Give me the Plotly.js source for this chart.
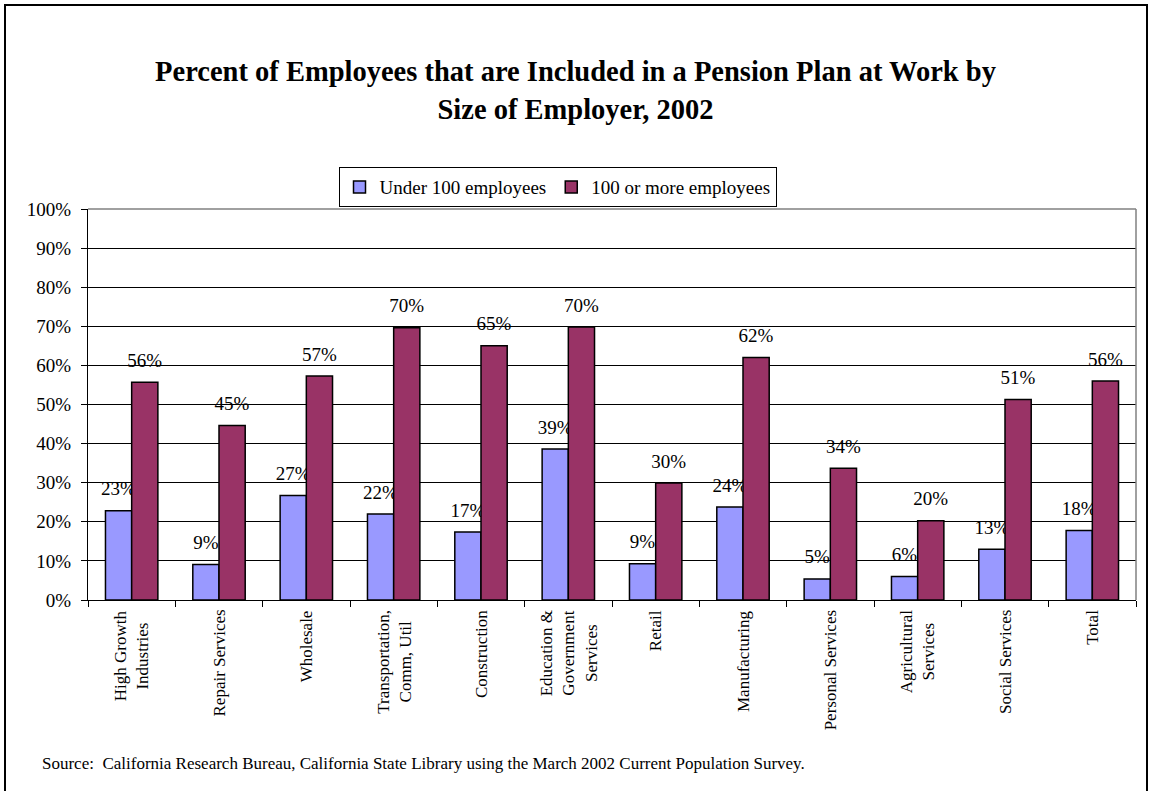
<!DOCTYPE html>
<html>
<head>
<meta charset="utf-8">
<script src="https://cdn.plot.ly/plotly-3.0.1.min.js"></script>
<style>
  html, body { margin: 0; padding: 0; background: #fff; }
  #wrap { position: relative; width: 1151px; height: 791px; overflow: hidden; }
  #chart { width: 1151px; height: 791px; }
  #frame { position: absolute; left: 4px; top: 4px; width: 1140px; height: 820px;
           border: 2px solid #000; pointer-events: none; }
</style>
</head>
<body>
<div id="wrap">
  <div id="chart"></div>
  <div id="frame"></div>
</div>
<script>
const categories = [
  "High Growth<br>Industries",
  "Repair Services",
  "Wholesale",
  "Transportation,<br>Comm, Util",
  "Construction",
  "Education &<br>Government<br>Services",
  "Retail",
  "Manufacturing",
  "Personal Services",
  "Agricultural<br>Services",
  "Social Services",
  "Total"
];
const under100 = [22.8, 9.1, 26.7, 22.0, 17.4, 38.6, 9.3, 23.8, 5.4, 6.0, 13.0, 17.8];
const over100  = [55.7, 44.6, 57.3, 69.6, 65.0, 69.8, 29.9, 62.0, 33.7, 20.3, 51.3, 56.0];
const seriesNames = ["Under 100 employees", "100 or more employees"];
const yTicks = [0, 10, 20, 30, 40, 50, 60, 70, 80, 90, 100];

const FONT = "Liberation Serif";

// value label; an empty (non-breaking space) second line lifts the label off the bar top
const LABEL_TEMPLATE = "<span style='font-size:19px'>%{y:.0f}%</span><br>\u00a0";

const barCommon = {
  type: "bar",
  x: categories,
  texttemplate: LABEL_TEMPLATE,
  textposition: "outside",
  constraintext: "none",
  cliponaxis: false,
  outsidetextfont: { family: FONT, size: 8, color: "#000" },
  hoverinfo: "skip"
};

const traces = [
  Object.assign({}, barCommon, {
    name: seriesNames[0], y: under100,
    marker: { color: "#9999FF", line: { color: "#000", width: 1.5 } }
  }),
  Object.assign({}, barCommon, {
    name: seriesNames[1], y: over100,
    marker: { color: "#993366", line: { color: "#000", width: 1.5 } }
  })
];

const catAnnotations = categories.map(c => ({
  x: c, xref: "x", y: 0, yref: "paper",
  yanchor: "top", xanchor: "center", yshift: -8,
  text: c, textangle: -90, align: "center", showarrow: false,
  font: { family: FONT, size: 17, color: "#000" }
}));

const layout = {
  width: 1151, height: 791,
  margin: { l: 88, r: 15, t: 209, b: 191 },
  paper_bgcolor: "#fff", plot_bgcolor: "#fff",
  font: { family: FONT, color: "#000" },
  title: {
    text: "<b>Percent of Employees that are Included in a Pension Plan at Work by<br>Size of Employer, 2002</b>",
    font: { family: FONT, size: 28.5, color: "#000" },
    xref: "container", x: 0.5, xanchor: "center",
    yref: "container", y: 0.897, yanchor: "middle"
  },
  barmode: "group",
  bargap: 0.4, bargroupgap: 0,
  showlegend: true,
  legend: {
    orientation: "h",
    x: 0.448, xanchor: "center",
    y: 1.056, yanchor: "middle",
    bordercolor: "#000", borderwidth: 1,
    bgcolor: "#fff",
    font: { family: FONT, size: 19, color: "#000" },
    itemwidth: 30,
    traceorder: "normal"
  },
  xaxis: {
    type: "category",
    showticklabels: false,
    ticks: "outside", tickson: "boundaries", ticklen: 6, tickcolor: "#000", tickwidth: 1,
    showline: true, linecolor: "#000", linewidth: 1,
    showgrid: false, zeroline: false,
    fixedrange: true
  },
  yaxis: {
    range: [0, 100],
    tickvals: yTicks,
    ticktext: yTicks.map(v => v + "%"),
    ticks: "outside", ticklen: 6, tickcolor: "#000", tickwidth: 1,
    ticklabelstandoff: 6,
    tickfont: { family: FONT, size: 19, color: "#000" },
    showline: true, linecolor: "#000", linewidth: 1,
    showgrid: true, gridcolor: "#000", gridwidth: 1,
    zeroline: false,
    fixedrange: true
  },
  shapes: [
    { type: "line", xref: "paper", yref: "paper", x0: 0, x1: 1, y0: 1, y1: 1,
      line: { color: "#808080", width: 1.5 } },
    { type: "line", xref: "paper", yref: "paper", x0: 1, x1: 1, y0: 0, y1: 1,
      line: { color: "#808080", width: 1.5 } }
  ],
  annotations: catAnnotations.concat([
    {
      xref: "paper", yref: "paper", x: -0.0458, y: -0.417,
      xanchor: "left", yanchor: "middle", showarrow: false,
      text: "Source:  California Research Bureau, California State Library using the March 2002 Current Population Survey.",
      font: { family: FONT, size: 17, color: "#000" }
    }
  ])
};

Plotly.newPlot("chart", traces, layout, { displayModeBar: false, staticPlot: true });
</script>
</body>
</html>
